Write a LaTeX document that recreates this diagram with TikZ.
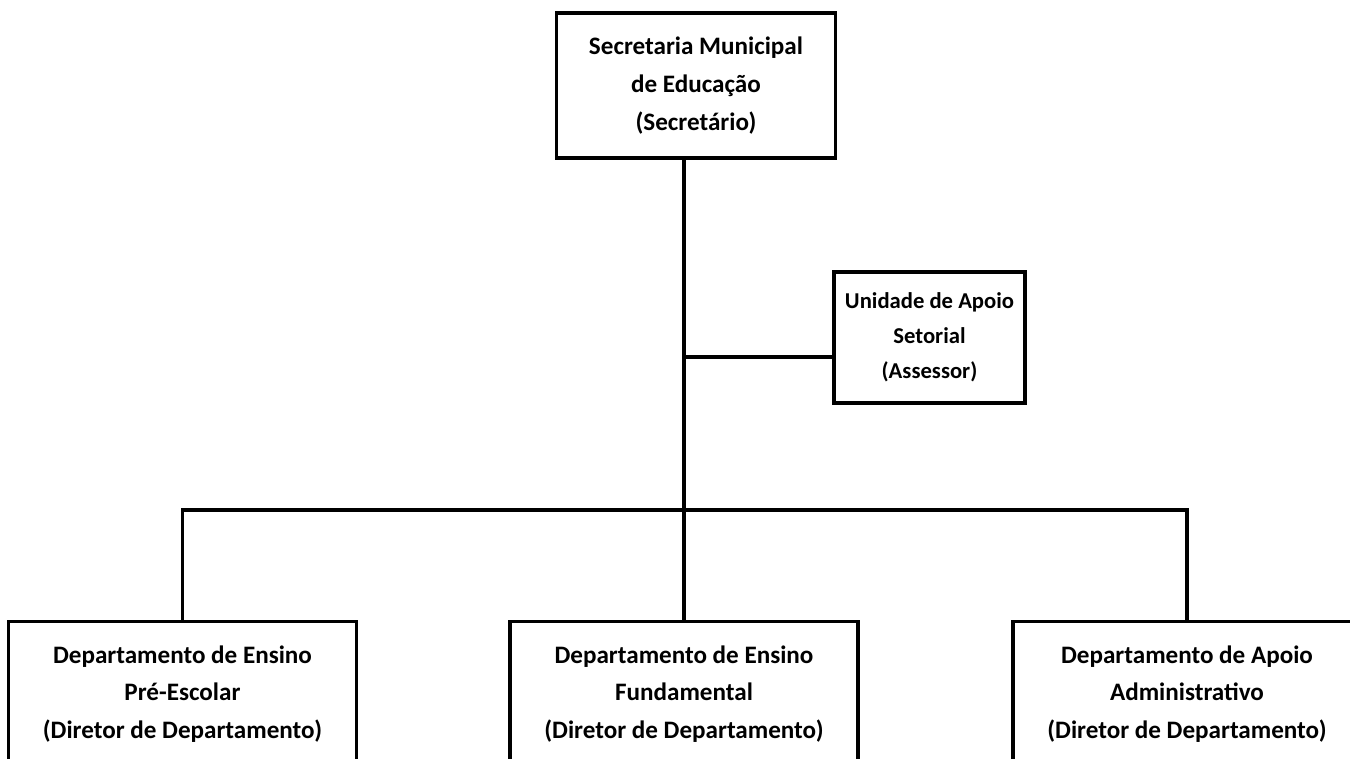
\documentclass[tikz,border=0pt]{standalone}
\usepackage{fontspec}
\setmainfont{Carlito}
\usepackage{tikz}

\begin{document}
\begin{tikzpicture}[
  x=0.02cm,y=-0.02cm,
  unit/.style={draw=black,line width=1.8pt,fill=white,align=center,inner sep=0pt,font=\bfseries\fontsize{14.3}{21.5}\selectfont},
  head/.style={unit,minimum width=5.58cm,minimum height=2.9cm},
  staff/.style={unit,minimum width=3.82cm,minimum height=2.62cm,font=\bfseries\fontsize{12.9}{20}\selectfont},
  dept/.style={unit,anchor=north,minimum width=6.96cm,minimum height=2.9cm},
  link/.style={line width=1.8pt,draw=black,line cap=rect}
]
  \useasboundingbox (0,0) rectangle (1350,759);
  \clip (0,0) rectangle (1350,759);
  \node[head] (sec) at (696,85.5) {Secretaria Municipal\\de Educação\\(Secretário)};
  \node[staff] (uni) at (929.5,337.5) {Unidade de Apoio\\Setorial\\(Assessor)};
  \node[dept] (pre) at (182.5,620) {Departamento de Ensino\\Pré-Escolar\\(Diretor de Departamento)};
  \node[dept] (fun) at (684,620) {Departamento de Ensino\\Fundamental\\(Diretor de Departamento)};
  \node[dept] (adm) at (1187,620) {Departamento de Apoio\\Administrativo\\(Diretor de Departamento)};
  \coordinate (tap) at (684,357);
  \coordinate (bus) at (684,510);
  \draw[link] (fun.north |- sec.south) -- (fun.north);
  \draw[link] (tap) -- (tap -| uni.west);
  \draw[link] (pre.north |- bus) -- (adm.north |- bus);
  \draw[link] (pre.north |- bus) -- (pre.north);
  \draw[link] (adm.north |- bus) -- (adm.north);
\end{tikzpicture}
\end{document}
